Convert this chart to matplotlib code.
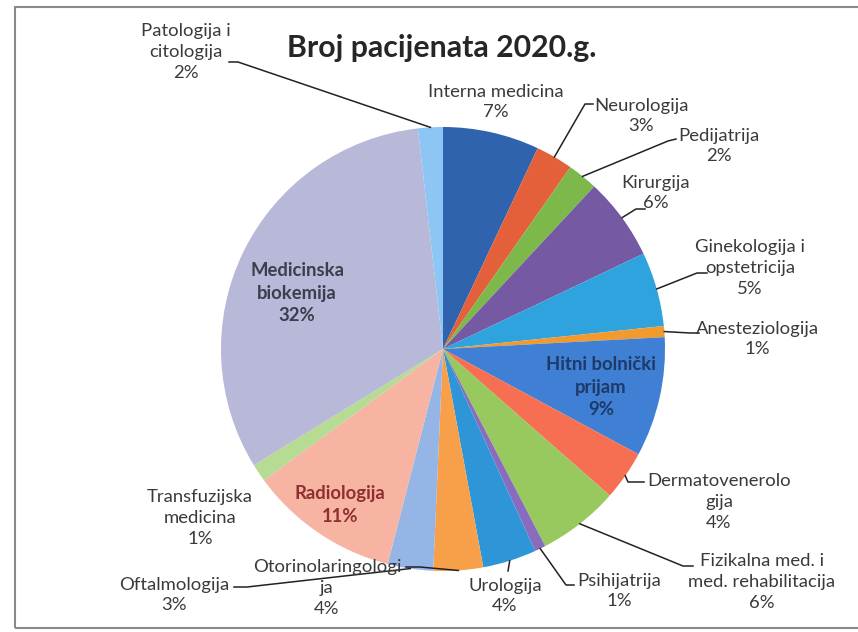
import numpy as np
import matplotlib.pyplot as plt

# shares of patients per department (percent)
departments = ["Interna medicina", "Neurologija", "Pedijatrija", "Kirurgija",
               "Ginekologija i opstetricija", "Anesteziologija", "Hitni bolnički prijam",
               "Dermatovenerologija", "Fizikalna med. i med. rehabilitacija", "Psihijatrija",
               "Urologija", "Otorinolaringologija", "Oftalmologija", "Radiologija",
               "Transfuzijska medicina", "Medicinska biokemija", "Patologija i citologija"]
shares = [7.0, 2.7, 2.2, 6.0, 5.4, 0.8, 8.7, 3.6, 5.9, 0.8, 3.9, 3.6, 3.3, 10.9, 1.3, 31.9, 1.8]
# label text as wrapped in the chart
label_text = ["Interna medicina", "Neurologija", "Pedijatrija", "Kirurgija",
              "Ginekologija i\nopstetricija", "Anesteziologija", "Hitni bolnički\nprijam",
              "Dermatovenerolo\ngija", "Fizikalna med. i\nmed. rehabilitacija", "Psihijatrija",
              "Urologija", "Otorinolaringologi\nja", "Oftalmologija", "Radiologija",
              "Transfuzijska\nmedicina", "Medicinska\nbiokemija", "Patologija i\ncitologija"]

colors = ["#2F63AE", "#E4603A", "#7DB84A", "#7559A3", "#2EA3DE", "#F29A2E",
          "#3F80D4", "#F66F52", "#97C95F", "#8A6CBE", "#2E96D6", "#F8A049",
          "#94B5E6", "#F7B4A3", "#B6DB92", "#B8B8D8", "#8DC6F4"]

W, H = 858, 632
cx, cy, r = 443, 349, 222

# label block centres and leader hooks (pixels from top-left)
label_pos = [(496, 102), (641, 116), (719, 146), (656, 193), (750, 268), (757, 339),
             (601, 387), (719, 502), (762, 582), (619, 591), (505, 596), (327, 588),
             (174, 595), (340, 505), (200, 518), (297, 293), (186, 52)]
hooks = {1: [(585, 104), (593, 104)], 2: [(668, 141), (676, 139)],
         3: [(636, 209), (645, 209)], 4: [(697, 273), (707, 273)],
         5: [(690, 333), (699, 333)], 7: [(628, 482), (644, 482)],
         8: [(683, 566), (693, 566)], 9: [(566, 585), (574, 585)],
         10: [(508, 571), (508, 571)], 11: [(420, 567), (406, 567)],
         12: [(247, 587), (234, 587)], 16: [(238, 62), (229, 62)]}
inside = {6: "#1F3A68", 13: "#8E3030", 15: "#3D3D4D"}

plt.rcParams['font.family'] = ['Lato', 'DejaVu Sans']

fig = plt.figure(figsize=(W / 100, H / 100), dpi=100)
fig.patch.set_facecolor("white")

# chart border
fig.add_artist(plt.Rectangle((15 / W, 1 - 628 / H), 900 / W, 621 / H,
                             transform=fig.transFigure, fill=False,
                             edgecolor="#8a8a8a", linewidth=1.5))

ax = fig.add_axes([(cx - r) / W, 1 - (cy + r) / H, 2 * r / W, 2 * r / H])
wedges, _ = ax.pie(shares, colors=colors, startangle=90, counterclock=False,
                   radius=1, wedgeprops=dict(linewidth=0))
ax.set_xlim(-1, 1)
ax.set_ylim(-1, 1)
ax.axis("off")


def px2d(p):
    return ((p[0] - cx) / r, (cy - p[1]) / r)


total = sum(shares)
for i, w in enumerate(wedges):
    pct = shares[i] / total * 100
    txt = "{}\n{:.0f}%".format(label_text[i], pct)
    x, y = px2d(label_pos[i])
    if i in inside:
        ax.text(x, y, txt, ha="center", va="center", fontsize=13.3,
                fontweight="bold", color=inside[i], linespacing=1.36)
    else:
        ax.text(x, y, txt, ha="center", va="center", fontsize=13.3,
                color="#3a3a3a", linespacing=1.36, clip_on=False)
    if i in hooks:
        mid = np.deg2rad((w.theta1 + w.theta2) / 2)
        pts = [(np.cos(mid), np.sin(mid))] + [px2d(p) for p in hooks[i]]
        xs, ys = zip(*pts)
        ax.plot(xs, ys, color="#222222", linewidth=1.1, clip_on=False)

fig.text(442 / W, 1 - 48 / H, "Broj pacijenata 2020.g.", ha="center", va="center",
         fontsize=21.8, fontweight="bold", color="#262626")

fig.savefig("out.png", dpi=100, facecolor="white")
